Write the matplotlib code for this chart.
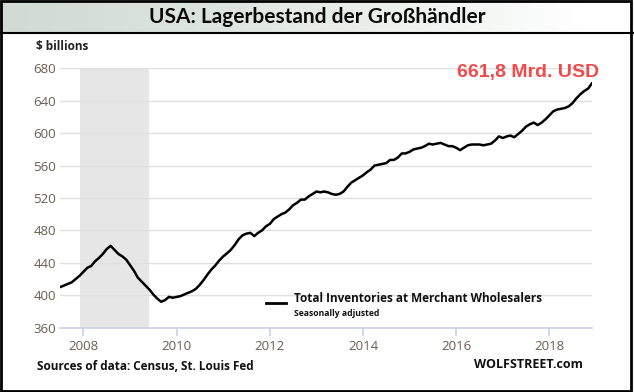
import numpy as np
import matplotlib
matplotlib.use("Agg")
import matplotlib.pyplot as plt
import pandas as pd
from matplotlib.patches import Rectangle
from matplotlib.lines import Line2D

# ---- data (USD billions, monthly, Jul 2007 - Dec 2018) ----
v2007 = [410, 412, 414, 416, 420, 424]
v2008 = [429, 434, 436, 442, 446, 451, 457, 461, 456, 451, 448, 444]
v2009 = [437, 430, 422, 417, 412, 407, 401, 396, 392, 394, 398, 397]
v2010 = [398, 399, 401, 403, 405, 408, 413, 419, 426, 432, 437, 443]
v2011 = [448, 452, 456, 462, 469, 474, 476, 477, 473, 477, 480, 485]
v2012 = [488, 494, 497, 500, 502, 506, 511, 514, 518, 518, 522, 525]
v2013 = [528, 527, 528, 527, 525, 524, 525, 528, 534, 539, 542, 545]
v2014 = [548, 552, 555, 560, 561, 562, 563, 567, 567, 570, 575, 575]
v2015 = [577, 580, 581, 582, 584, 587, 586, 587, 588, 586, 584, 584]
v2016 = [582, 579, 582, 585, 586, 586, 586, 585, 586, 587, 591, 596]
v2017 = [594, 596, 597, 595, 599, 603, 608, 611, 613, 610, 613, 617]
v2018 = [622, 627, 629, 630, 631, 633, 637, 643, 648, 652, 655, 661.8]
values = v2007 + v2008 + v2009 + v2010 + v2011 + v2012 + v2013 + v2014 + v2015 + v2016 + v2017 + v2018
dates = pd.date_range("2007-07-01", periods=len(values), freq="MS")

recession = ("2007-12-01", "2009-06-01")
y_ticks = [360, 400, 440, 480, 520, 560, 600, 640, 680]
x_tick_years = [2008, 2010, 2012, 2014, 2016, 2018]

title = "USA: Lagerbestand der Großhändler"
annotation = "661,8 Mrd. USD"
legend_main = "Total Inventories at Merchant Wholesalers"
legend_sub = "Seasonally adjusted"
source = "Sources of data: Census, St. Louis Fed"
brand = "WOLFSTREET.com"

W, H = 634, 392
fig = plt.figure(figsize=(W / 100, H / 100), dpi=100)
fig.patch.set_facecolor("white")

def fx(px):
    return px / W

def fy(py):
    return 1 - py / H

# title band with gradient
band_h = 33
tax = fig.add_axes([0, fy(band_h), 1, band_h / H])
grad = np.linspace(0, 1, 256)
c0 = np.array([0.82, 0.86, 0.83])
c1 = np.array([1.0, 1.0, 1.0])
g = np.clip((grad / 0.92), 0, 1) ** 1.3
img = c0[None, :] * (1 - g[:, None]) + c1[None, :] * g[:, None]
tax.imshow(img[None, :, :], aspect="auto", extent=[0, 1, 0, 1])
tax.set_xlim(0, 1)
tax.set_ylim(0, 1)
tax.axis("off")
tax.text(0.5, 0.48, title, ha="center", va="center", fontsize=15,
         fontweight="bold", family="Lato", color="#0a0a0a")

# main axes
left, right, top, bottom = 60, 592, 68.3, 327.7
ax = fig.add_axes([fx(left), fy(bottom), fx(right - left), (bottom - top) / H])
ax.axvspan(pd.Timestamp(recession[0]), pd.Timestamp(recession[1]),
           color="#e6e6e6", zorder=0, lw=0)
ax.plot(dates, values, color="black", lw=1.8, zorder=3,
        solid_joinstyle="round", solid_capstyle="round")
ax.set_ylim(360, 680)
ax.set_xlim(dates[0], dates[-1])
ax.set_yticks(y_ticks)
for yv in y_ticks[1:]:
    ax.axhline(yv, color="#e0e0e0", lw=1.0, zorder=1)
ax.set_xticks([pd.Timestamp(f"{y}-01-01") for y in x_tick_years])
ax.set_xticklabels([str(y) for y in x_tick_years])
for s in ["top", "right", "left"]:
    ax.spines[s].set_visible(False)
ax.spines["bottom"].set_color("#c5d3e8")
ax.spines["bottom"].set_linewidth(1.2)
ax.tick_params(axis="y", length=0, pad=3, labelsize=9.5, labelcolor="#6b5d50")
ax.tick_params(axis="x", length=6, width=1.2, color="#c5d3e8", pad=3,
               labelsize=9.5, labelcolor="#6b5d50")
for lab in ax.get_xticklabels() + ax.get_yticklabels():
    lab.set_family("Open Sans")
ax.set_facecolor("none")

# texts
fig.text(fx(36), fy(47), "$ billions", ha="left", va="center", fontsize=8.5,
         fontweight="bold", family="Open Sans", color="#222222")
fig.text(fx(599), fy(72), annotation, ha="right", va="center", fontsize=14,
         fontweight="bold", family="Liberation Sans", color="#f04a4a")
fig.add_artist(Line2D([fx(266), fx(286)], [fy(303), fy(303)], color="black",
                      lw=2.0, transform=fig.transFigure))
fig.text(fx(294), fy(298), legend_main, ha="left", va="center", fontsize=8.5,
         fontweight="bold", family="Open Sans", color="#111111")
fig.text(fx(294), fy(314), legend_sub, ha="left", va="center", fontsize=6.2,
         fontweight="bold", family="Open Sans", color="#111111")
fig.text(fx(37), fy(366), source, ha="left", va="center", fontsize=8.5,
         fontweight="bold", family="Open Sans", color="#111111")
fig.text(fx(583), fy(365), brand, ha="right", va="center", fontsize=9,
         fontweight="bold", family="Open Sans", color="#111111")

# borders
fig.add_artist(Line2D([0, 1], [fy(band_h), fy(band_h)], color="black", lw=1.5,
                      transform=fig.transFigure))
fig.add_artist(Rectangle((0.002, 0.003), 0.994, 0.994, fill=False,
                         edgecolor="black", lw=2.0, transform=fig.transFigure))

fig.savefig("out.png", dpi=100)
